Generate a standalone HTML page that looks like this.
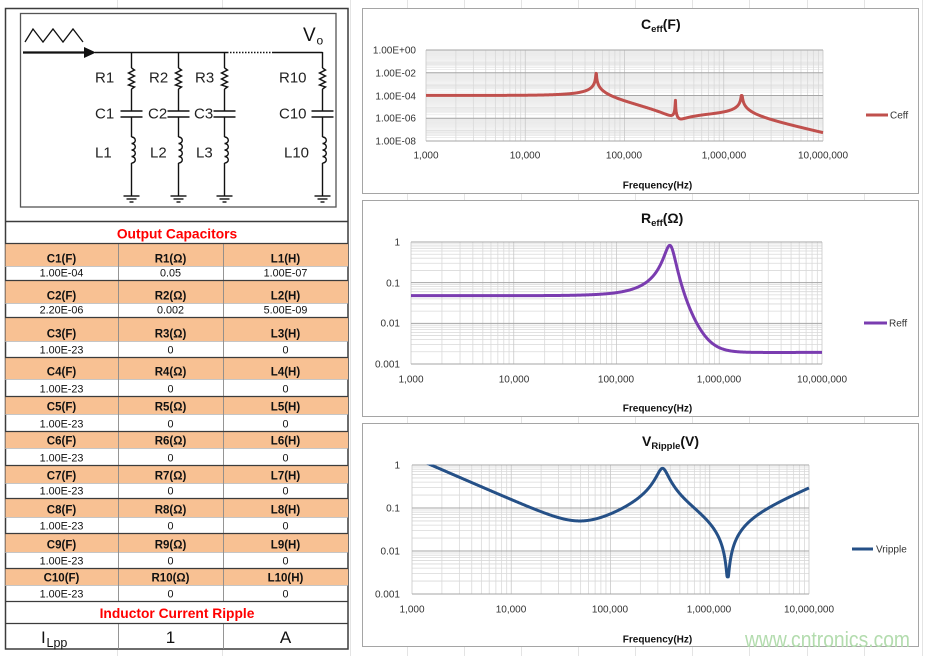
<!DOCTYPE html>
<html><head><meta charset="utf-8">
<style>
html,body{margin:0;padding:0;background:#fff;}
svg{display:block;font-family:"Liberation Sans",Arial,sans-serif;}
</style></head>
<body>
<svg id="s" width="929" height="656" viewBox="0 0 929 656" xmlns="http://www.w3.org/2000/svg">
<defs>
<clipPath id="cp1"><rect x="426" y="49" width="398" height="93"/></clipPath>
<clipPath id="cp2"><rect x="411" y="241" width="412" height="124"/></clipPath>
<clipPath id="cp3"><rect x="412" y="464.5" width="398" height="130"/></clipPath>
</defs>
<g id="bg" stroke="#e4e4e4" stroke-width="1"></g>

<!-- left panel -->
<rect x="5.5" y="8.5" width="342.5" height="640.5" fill="#fff" stroke="#3c3c3c" stroke-width="1.5"/>
<rect x="20.5" y="13.5" width="315.5" height="193.5" fill="#fff" stroke="#555" stroke-width="1.3"/>
<g id="circ" stroke="#111" stroke-width="1.4" fill="none"></g>
<g font-size="15" fill="#222">
<text x="95" y="82.5">R1</text><text x="95" y="118.5">C1</text><text x="95" y="157.5">L1</text>
<text x="149" y="82.5">R2</text><text x="148" y="118.5">C2</text><text x="150" y="157.5">L2</text>
<text x="195" y="82.5">R3</text><text x="194" y="118.5">C3</text><text x="196" y="157.5">L3</text>
<text x="279" y="82.5">R10</text><text x="279" y="118.5">C10</text><text x="284" y="157.5">L10</text>
</g>
<text x="303" y="41" font-size="19" fill="#111">V</text><text x="316.5" y="44.5" font-size="12" fill="#111">o</text>

<line x1="5" y1="221.5" x2="348" y2="221.5" stroke="#3c3c3c" stroke-width="1.5"/>
<text x="177" y="238.5" font-size="13.8" font-weight="bold" fill="#ff0000" text-anchor="middle">Output Capacitors</text>

<g fill="#f8c193">
<rect x="5.5" y="243" width="342.5" height="23"/>
<rect x="5.5" y="280" width="342.5" height="23"/>
<rect x="5.5" y="317" width="342.5" height="24"/>
<rect x="5.5" y="357" width="342.5" height="22"/>
<rect x="5.5" y="396" width="342.5" height="18"/>
<rect x="5.5" y="431" width="342.5" height="17"/>
<rect x="5.5" y="465" width="342.5" height="18"/>
<rect x="5.5" y="498" width="342.5" height="19"/>
<rect x="5.5" y="533" width="342.5" height="19"/>
<rect x="5.5" y="568" width="342.5" height="17"/>
</g>
<g stroke="#b3b3b3" stroke-width="0.8">
<line x1="5" y1="266.5" x2="348" y2="266.5"/><line x1="5" y1="303.5" x2="348" y2="303.5"/>
<line x1="5" y1="341.5" x2="348" y2="341.5"/><line x1="5" y1="379.5" x2="348" y2="379.5"/>
<line x1="5" y1="414.5" x2="348" y2="414.5"/><line x1="5" y1="448.5" x2="348" y2="448.5"/>
<line x1="5" y1="483.5" x2="348" y2="483.5"/><line x1="5" y1="517.5" x2="348" y2="517.5"/>
<line x1="5" y1="552.5" x2="348" y2="552.5"/><line x1="5" y1="585.5" x2="348" y2="585.5"/>
</g>
<g stroke="#8a8a8a" stroke-width="0.9">
<line x1="118.5" y1="243" x2="118.5" y2="601"/><line x1="223.5" y1="243" x2="223.5" y2="601"/>
<line x1="118.5" y1="623" x2="118.5" y2="649"/><line x1="223.5" y1="623" x2="223.5" y2="649"/>
</g>
<g stroke="#3c3c3c" stroke-width="1.3">
<line x1="5" y1="243.5" x2="348" y2="243.5"/><line x1="5" y1="280.5" x2="348" y2="280.5"/>
<line x1="5" y1="317.5" x2="348" y2="317.5"/><line x1="5" y1="357.5" x2="348" y2="357.5"/>
<line x1="5" y1="396.5" x2="348" y2="396.5"/><line x1="5" y1="431.5" x2="348" y2="431.5"/>
<line x1="5" y1="465.5" x2="348" y2="465.5"/><line x1="5" y1="498.5" x2="348" y2="498.5"/>
<line x1="5" y1="533.5" x2="348" y2="533.5"/><line x1="5" y1="568.5" x2="348" y2="568.5"/>
<line x1="5" y1="601.5" x2="348" y2="601.5"/><line x1="5" y1="623.5" x2="348" y2="623.5"/>
</g>

<g font-size="11.5" font-weight="bold" fill="#111" text-anchor="middle">
<text x="61.5" y="262.5">C1(F)</text><text x="170.5" y="262.5">R1(Ω)</text><text x="285.5" y="262.5">L1(H)</text>
<text x="61.5" y="299.5">C2(F)</text><text x="170.5" y="299.5">R2(Ω)</text><text x="285.5" y="299.5">L2(H)</text>
<text x="61.5" y="337.5">C3(F)</text><text x="170.5" y="337.5">R3(Ω)</text><text x="285.5" y="337.5">L3(H)</text>
<text x="61.5" y="375.5">C4(F)</text><text x="170.5" y="375.5">R4(Ω)</text><text x="285.5" y="375.5">L4(H)</text>
<text x="61.5" y="410.5">C5(F)</text><text x="170.5" y="410.5">R5(Ω)</text><text x="285.5" y="410.5">L5(H)</text>
<text x="61.5" y="444.5">C6(F)</text><text x="170.5" y="444.5">R6(Ω)</text><text x="285.5" y="444.5">L6(H)</text>
<text x="61.5" y="479.5">C7(F)</text><text x="170.5" y="479.5">R7(Ω)</text><text x="285.5" y="479.5">L7(H)</text>
<text x="61.5" y="513.5">C8(F)</text><text x="170.5" y="513.5">R8(Ω)</text><text x="285.5" y="513.5">L8(H)</text>
<text x="61.5" y="548.5">C9(F)</text><text x="170.5" y="548.5">R9(Ω)</text><text x="285.5" y="548.5">L9(H)</text>
<text x="61.5" y="581.5">C10(F)</text><text x="170.5" y="581.5">R10(Ω)</text><text x="285.5" y="581.5">L10(H)</text>
</g>
<g font-size="10.8" fill="#111" text-anchor="middle">
<text x="61.5" y="276.5">1.00E-04</text><text x="170.5" y="276.5">0.05</text><text x="285.5" y="276.5">1.00E-07</text>
<text x="61.5" y="313.5">2.20E-06</text><text x="170.5" y="313.5">0.002</text><text x="285.5" y="313.5">5.00E-09</text>
<text x="61.5" y="353.5">1.00E-23</text><text x="170.5" y="353.5">0</text><text x="285.5" y="353.5">0</text>
<text x="61.5" y="392.5">1.00E-23</text><text x="170.5" y="392.5">0</text><text x="285.5" y="392.5">0</text>
<text x="61.5" y="427.5">1.00E-23</text><text x="170.5" y="427.5">0</text><text x="285.5" y="427.5">0</text>
<text x="61.5" y="461.5">1.00E-23</text><text x="170.5" y="461.5">0</text><text x="285.5" y="461.5">0</text>
<text x="61.5" y="494.5">1.00E-23</text><text x="170.5" y="494.5">0</text><text x="285.5" y="494.5">0</text>
<text x="61.5" y="529.5">1.00E-23</text><text x="170.5" y="529.5">0</text><text x="285.5" y="529.5">0</text>
<text x="61.5" y="564.5">1.00E-23</text><text x="170.5" y="564.5">0</text><text x="285.5" y="564.5">0</text>
<text x="61.5" y="597.5">1.00E-23</text><text x="170.5" y="597.5">0</text><text x="285.5" y="597.5">0</text>
</g>
<text x="177" y="618" font-size="13.8" font-weight="bold" fill="#ff0000" text-anchor="middle">Inductor Current Ripple</text>
<text x="41" y="643" font-size="17" fill="#111">I</text><text x="46.5" y="647" font-size="12.5" fill="#111">Lpp</text>
<text x="170.5" y="643" font-size="17" fill="#111" text-anchor="middle">1</text>
<text x="285.5" y="643" font-size="17" fill="#111" text-anchor="middle">A</text>

<!-- chart boxes -->
<g fill="#fff" stroke="#a5a5a5" stroke-width="1">
<rect x="362.5" y="8.5" width="556" height="185"/>
<rect x="362.5" y="200.5" width="556" height="216"/>
<rect x="362.5" y="423.5" width="556" height="223"/>
</g>
<g id="g1"></g><g id="g2"></g><g id="g3"></g>
<g id="c1" clip-path="url(#cp1)"></g><g id="c2" clip-path="url(#cp2)"></g><g id="c3" clip-path="url(#cp3)"></g>

<!-- chart 1 text -->
<text x="641" y="29" font-size="14" font-weight="bold" fill="#111">C<tspan font-size="9.5" dy="3">eff</tspan><tspan dy="-3">(F)</tspan></text>
<g font-size="10" fill="#333" text-anchor="end">
<text x="416" y="53.5">1.00E+00</text><text x="416" y="76.5">1.00E-02</text><text x="416" y="99.5">1.00E-04</text><text x="416" y="121.5">1.00E-06</text><text x="416" y="144.5">1.00E-08</text>
</g>
<g font-size="10" fill="#333" text-anchor="middle">
<text x="426" y="158.5">1,000</text><text x="525" y="158.5">10,000</text><text x="624" y="158.5">100,000</text><text x="724" y="158.5">1,000,000</text><text x="823" y="158.5">10,000,000</text>
</g>
<text x="657.5" y="188.5" font-size="10" font-weight="bold" fill="#111" text-anchor="middle">Frequency(Hz)</text>
<line x1="866" y1="115" x2="888" y2="115" stroke="#c0504d" stroke-width="3"/>
<text x="890" y="118.5" font-size="10" fill="#333">Ceff</text>

<!-- chart 2 text -->
<text x="641" y="223" font-size="14" font-weight="bold" fill="#111">R<tspan font-size="9.5" dy="3">eff</tspan><tspan dy="-3">(Ω)</tspan></text>
<g font-size="10" fill="#333" text-anchor="end">
<text x="400" y="245.5">1</text><text x="400" y="286.5">0.1</text><text x="400" y="326.5">0.01</text><text x="400" y="367.5">0.001</text>
</g>
<g font-size="10" fill="#333" text-anchor="middle">
<text x="411" y="382.5">1,000</text><text x="514" y="382.5">10,000</text><text x="616" y="382.5">100,000</text><text x="719" y="382.5">1,000,000</text><text x="822" y="382.5">10,000,000</text>
</g>
<text x="657.5" y="411.5" font-size="10" font-weight="bold" fill="#111" text-anchor="middle">Frequency(Hz)</text>
<line x1="864" y1="323" x2="887" y2="323" stroke="#7a3cb0" stroke-width="3"/>
<text x="889" y="326.5" font-size="10" fill="#333">Reff</text>

<!-- chart 3 text -->
<text x="642" y="446" font-size="14" font-weight="bold" fill="#111">V<tspan font-size="9.5" dy="3">Ripple</tspan><tspan dy="-3">(V)</tspan></text>
<g font-size="10" fill="#333" text-anchor="end">
<text x="400" y="468.5">1</text><text x="400" y="511.5">0.1</text><text x="400" y="554.5">0.01</text><text x="400" y="597.5">0.001</text>
</g>
<g font-size="10" fill="#333" text-anchor="middle">
<text x="412" y="612.5">1,000</text><text x="511" y="612.5">10,000</text><text x="610" y="612.5">100,000</text><text x="709" y="612.5">1,000,000</text><text x="809" y="612.5">10,000,000</text>
</g>
<text x="657.5" y="642.5" font-size="10" font-weight="bold" fill="#111" text-anchor="middle">Frequency(Hz)</text>
<line x1="852" y1="549" x2="873" y2="549" stroke="#255087" stroke-width="3"/>
<text x="876" y="552.5" font-size="10" fill="#333">Vripple</text>

<text x="745" y="647" font-size="22" fill="#b3dcae" textLength="165" lengthAdjust="spacingAndGlyphs">www.cntronics.com</text>
</svg>
<script>
(function(){
const NS="http://www.w3.org/2000/svg";
function el(p,t,a){const e=document.createElementNS(NS,t);for(const k in a)e.setAttribute(k,a[k]);p.appendChild(e);return e;}
const G=id=>document.getElementById(id);
const bg=G('bg');
[117,222,350,407,464,521,578,635,692,749,807,864,922].forEach(x=>el(bg,'line',{x1:x+.5,y1:0,x2:x+.5,y2:656}));
const cg=G('circ');
el(cg,'polyline',{points:"25,42 33,29 43,42 53,29 63,42 73,29 83,42","stroke-width":1.3});
el(cg,'line',{x1:23,y1:52.5,x2:88,y2:52.5,"stroke-width":2.2});
el(cg,'polygon',{points:"84,47 96,52.5 84,58",fill:"#111",stroke:"none"});
el(cg,'line',{x1:95,y1:52.5,x2:227,y2:52.5,"stroke-width":1.6});
el(cg,'line',{x1:227,y1:52.5,x2:272,y2:52.5,"stroke-width":1.6,"stroke-dasharray":"1.5,1.5"});
el(cg,'line',{x1:272,y1:52.5,x2:322.5,y2:52.5,"stroke-width":1.6});
function branch(bx){
 el(cg,'line',{x1:bx,y1:52,x2:bx,y2:68});
 const pts=[[bx,68]];[70,73,76,79,82,85,87].forEach((y,i)=>pts.push([bx+(i%2?-3:3),y]));pts.push([bx,89]);
 el(cg,'polyline',{points:pts.map(p=>p.join(',')).join(' ')});
 el(cg,'line',{x1:bx,y1:89,x2:bx,y2:111});
 el(cg,'line',{x1:bx-11,y1:111,x2:bx+11,y2:111,"stroke-width":1.6});
 el(cg,'line',{x1:bx-11,y1:117,x2:bx+11,y2:117,"stroke-width":1.6});
 el(cg,'line',{x1:bx,y1:117,x2:bx,y2:137});
 let d='M'+bx+',137';for(let i=0;i<4;i++)d+=' a3.8,3.25 0 1 1 0,6.5';
 el(cg,'path',{d:d});
 el(cg,'line',{x1:bx,y1:163,x2:bx,y2:196});
 el(cg,'line',{x1:bx-8,y1:196,x2:bx+8,y2:196});
 el(cg,'line',{x1:bx-5,y1:199,x2:bx+5,y2:199});
 el(cg,'line',{x1:bx-2,y1:202,x2:bx+2,y2:202});
}
[131.5,178.5,224.5,322.5].forEach(branch);

const br=[[0.05,1e-4,1e-7],[0.002,2.2e-6,5e-9]];
function Z(f){const w=2*Math.PI*f;let yr=0,yi=8*w*1e-23;for(const b of br){const R=b[0],C=b[1],L=b[2];const X=w*L-1/(w*C);const d=R*R+X*X;yr+=R/d;yi+=-X/d;}const d=yr*yr+yi*yi;return [yr/d,-yi/d];}

function chart(gid,cid,x0,x1,yt,yb,nd,twoDec,fn,color){
 const g=G(gid);
 const fx=f=>x0+(Math.log10(f)-3)*(x1-x0)/4;
 const vy=v=>yt+(-Math.log10(v))*(yb-yt)/nd;
 if(twoDec){
  for(let j=0;j<4;j++){const L=Math.pow(10,-2*j-2);
   for(let k=2;k<=9;k++){const y=vy(k*L);el(g,'line',{x1:x0,y1:y,x2:x1,y2:y,stroke:"#e2e2e2","stroke-width":0.6});}
   for(let k=10;k<=99;k+=1){const y=vy(k*L);el(g,'line',{x1:x0,y1:y,x2:x1,y2:y,stroke:"#ececec","stroke-width":0.35});}
  }
 } else {
  for(let j=1;j<=nd;j++){const L=Math.pow(10,-j);for(let k=2;k<=9;k++){const y=vy(k*L);el(g,'line',{x1:x0,y1:y,x2:x1,y2:y,stroke:"#d9d9d9","stroke-width":0.8});}}
 }
 for(let d=3;d<=6;d++){for(let k=1;k<=9;k++){const x=fx(k*Math.pow(10,d));el(g,'line',{x1:x,y1:yt,x2:x,y2:yb,stroke:k==1?"#c8c8c8":"#d9d9d9","stroke-width":0.8});}}
 el(g,'line',{x1:x1,y1:yt,x2:x1,y2:yb,stroke:"#c8c8c8","stroke-width":0.8});
 const step=twoDec?2:1;
 for(let j=0;j<=nd;j+=step){const y=yt+j*(yb-yt)/nd;el(g,'line',{x1:x0,y1:y,x2:x1,y2:y,stroke:"#a6a6a6","stroke-width":1});}
 const pts=[];const N=300;
 for(let i=0;i<=4*N;i++){const f=Math.pow(10,3+i/N);const v=fn(f);pts.push(fx(f).toFixed(2)+','+vy(v).toFixed(2));}
 el(G(cid),'polyline',{points:pts.join(' '),fill:"none",stroke:color,"stroke-width":3,"stroke-linejoin":"round"});
}
chart('g1','c1',426,823,50,141,8,true,function(f){const z=Z(f);const w=2*Math.PI*f;let c=1/(w*Math.abs(z[1]));let cap=f<150e3?Math.pow(10,-2.05):(f<800e3?Math.pow(10,-4.1):1e-4);return Math.min(c,cap);},"#c0504d");
chart('g2','c2',411,822,242,364,3,false,function(f){return Math.max(Z(f)[0],1e-4);},"#7a3cb0");
chart('g3','c3',412,809,465,594,3,false,function(f){const z=Z(f);return Math.max(Math.hypot(z[0],z[1]),0.0025);},"#255087");
})();
</script>
</body></html>
